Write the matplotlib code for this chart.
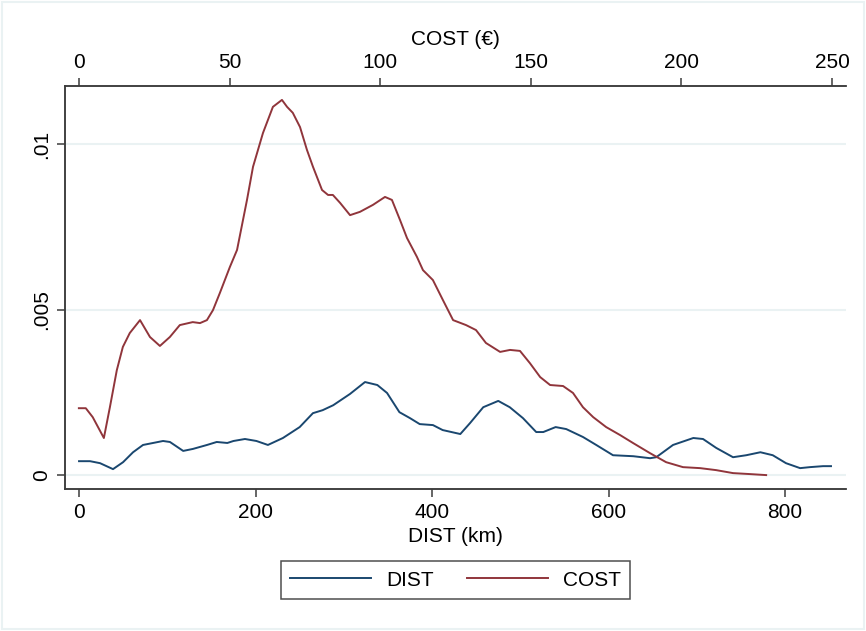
import matplotlib.pyplot as plt
from matplotlib.patches import Rectangle

plt.rcParams["font.family"] = ["Liberation Sans", "DejaVu Sans"]

# DIST kernel density (bottom axis, km)
DIST_X = [0, 12.5, 23.8, 38.5, 49.9, 61.2, 72.5, 83.9, 95.2, 103, 118, 129, 145, 156,
          168, 175, 188, 201, 214, 231, 250, 265, 276, 288, 307, 324, 338, 349, 363,
          375, 386, 401, 412, 432, 443, 458, 475, 488, 503, 518, 526, 540, 552, 571,
          586, 605, 628, 647, 654, 673, 696, 707, 722, 741, 756, 772, 786, 801, 817,
          828, 843, 852]
DIST_Y = [0.00042, 0.00042, 0.00036, 0.00018, 0.00039, 0.00069, 0.00091, 0.00097,
          0.00103, 0.00100, 0.00073, 0.00079, 0.00091, 0.00100, 0.00097, 0.00103,
          0.00109, 0.00103, 0.00091, 0.00112, 0.00145, 0.00187, 0.00196, 0.00211,
          0.00245, 0.00281, 0.00272, 0.00248, 0.00190, 0.00172, 0.00154, 0.00151,
          0.00136, 0.00124, 0.00157, 0.00205, 0.00224, 0.00205, 0.00172, 0.00130,
          0.00130, 0.00145, 0.00139, 0.00115, 0.00091, 0.00060, 0.00057, 0.00051,
          0.00054, 0.00091, 0.00112, 0.00109, 0.00082, 0.00054, 0.00060, 0.00069,
          0.00060, 0.00036, 0.00021, 0.00024, 0.00027, 0.00027]

# COST kernel density (top axis, euro)
COST_X = [0, 2.3, 4.6, 8.3, 10.3, 12.6, 14.6, 16.9, 20.3, 23.6, 26.9, 30.2, 33.5, 37.8,
          40.2, 42.5, 44.5, 46.8, 50.1, 52.5, 55.8, 57.8, 61.1, 64.4, 67.4, 69.1, 71.0,
          73.4, 75.7, 77.7, 80.7, 82.7, 84.3, 86.7, 90.0, 93.3, 97.6, 101.6, 103.9,
          106.6, 108.9, 112.2, 114.2, 117.5, 120.8, 124.2, 128.5, 131.8, 135.1, 139.8,
          143.1, 146.4, 149.7, 153.1, 156.4, 160.7, 164.0, 167.3, 170.7, 175.0, 179.6,
          183.9, 189.6, 194.9, 200.5, 206.2, 211.5, 217.1, 222.8, 228.1]
COST_Y = [0.00202, 0.00202, 0.00175, 0.00112, 0.00205, 0.00317, 0.00387, 0.00429,
          0.00468, 0.00417, 0.00390, 0.00417, 0.00453, 0.00462, 0.00459, 0.00468,
          0.00498, 0.00550, 0.00628, 0.00680, 0.00831, 0.00931, 0.01033, 0.01112,
          0.01133, 0.01112, 0.01094, 0.01051, 0.00982, 0.00931, 0.00861, 0.00846,
          0.00846, 0.00822, 0.00785, 0.00795, 0.00816, 0.00840, 0.00831, 0.00770,
          0.00716, 0.00659, 0.00619, 0.00589, 0.00529, 0.00468, 0.00453, 0.00438,
          0.00399, 0.00372, 0.00378, 0.00375, 0.00338, 0.00296, 0.00272, 0.00269,
          0.00248, 0.00205, 0.00175, 0.00145, 0.00121, 0.00097, 0.00066, 0.00039,
          0.00024, 0.00021, 0.00015, 0.00006, 0.00003, 0.0]

Y_TICKS = [0, 0.005, 0.01]
Y_LABELS = ["0", ".005", ".01"]
DIST_TICKS = [0, 200, 400, 600, 800]
COST_TICKS = [0, 50, 100, 150, 200, 250]

BLUE = "#1a476f"
RED = "#90353b"
AXC = "#3c3c3c"
GRID = "#eaf2f3"
FS = 15

fig = plt.figure(figsize=(8.66, 6.31), dpi=100)
ax = fig.add_axes([65 / 866, 1 - 489 / 631, 781 / 866, 403 / 631])
ax2 = ax.twiny()

l1, = ax.plot(DIST_X, DIST_Y, color=BLUE, lw=1.4, label="DIST", solid_joinstyle="round")
l2, = ax2.plot(COST_X, COST_Y, color=RED, lw=1.4, label="COST", solid_joinstyle="round")

ax.set_xlim(-15.9, 869)
ax2.set_xlim(-4.6, 254.6)
ax.set_ylim(-0.00042, 0.01175)

ax.set_yticks(Y_TICKS)
ax.set_yticklabels(Y_LABELS, rotation=90, va="center")
ax.set_xticks(DIST_TICKS)
ax2.set_xticks(COST_TICKS)
for y in Y_TICKS:
    ax.axhline(y, color=GRID, lw=1.5, zorder=0)

for a in (ax, ax2):
    a.spines["right"].set_visible(False)
    for s in ("left", "bottom", "top"):
        a.spines[s].set_color(AXC)
        a.spines[s].set_linewidth(1.1)
    a.tick_params(colors=AXC, labelcolor="black", labelsize=FS, length=6, width=1.1, pad=4)

ax.set_xlabel("DIST (km)", fontsize=FS, labelpad=4)
ax2.set_xlabel("COST (€)", fontsize=FS, labelpad=6)

fig.legend([l1, l2], ["DIST", "COST"], loc="center", bbox_to_anchor=(455.5 / 866, 1 - 580 / 631),
           ncol=2, fontsize=FS, frameon=True, fancybox=False, edgecolor="#222222",
           handlelength=3.9, columnspacing=1.6, borderpad=0.45, handletextpad=0.7)
fig.legends[0].get_frame().set_linewidth(1.1)

fig.patches.append(Rectangle((2 / 866, 2 / 631), 862 / 866, 627 / 631, transform=fig.transFigure,
                             fill=False, edgecolor=GRID, lw=1.5))

fig.savefig("out.png", dpi=100)
